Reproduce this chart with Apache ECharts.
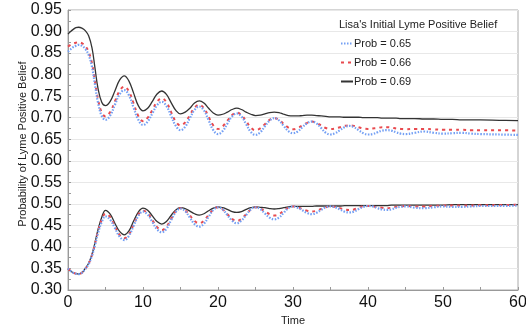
<!DOCTYPE html>
<html><head><meta charset="utf-8">
<script src="https://cdn.jsdelivr.net/npm/echarts@6/dist/echarts.min.js"></script>
<style>html,body{margin:0;padding:0;background:#fff}#c{width:526px;height:329px}</style>
</head><body><div id="c"></div>
<script>
var time = [0,0.35,0.7,1.05,1.4,1.85,2.3,2.75,3.2,3.6,4,4.5,5,
  5.625,6.25,6.875,7.5,8.125,8.75,9.375,10,
  10.625,11.25,11.875,12.5,13.125,13.75,14.375,15,
  15.625,16.25,16.875,17.5,18.125,18.75,19.375,20,
  20.625,21.25,21.875,22.5,23.125,23.75,24.375,25,
  25.625,26.25,26.875,27.5,28.125,28.75,29.375,30,
  30.625,31.25,31.875,32.5,33.125,33.75,34.375,35,
  35.625,36.25,36.875,37.5,38.125,38.75,39.375,40,
  40.625,41.25,41.875,42.5,43.125,43.75,44.375,45,
  46.25,47.5,48.75,50,51.25,52.5,53.75,55,57.5,60];
var xTicks = [0,10,20,30,40,50,60];
var legendTitle = "Lisa's Initial Lyme Positive Belief";
var names = ['Prob = 0.65','Prob = 0.66','Prob = 0.69'];

var upper069 = [.894,.900,.905,.909,.910,.908,.902,.890,.862,.815,.768,.736,.728,
  .738,.762,.787,.797,.785,.757,.728,.716,
  .722,.738,.755,.762,.754,.735,.717,.709,
  .713,.722,.734,.739,.734,.722,.711,.706,
  .708,.713,.719,.722,.719,.713,.708,.705,
  .706,.709,.712,.713,.712,.708,.705,.704,
  .704,.705,.706,.706,.705,.704,.703,.702,
  .702,.702,.701,.701,.701,.701,.700,.700,
  .700,.700,.699,.699,.699,.699,.698,.698,
  .698,.697,.697,.696,.696,.695,.695,.695,.694,.693];
var upper066 = [.865,.869,.872,.874,.875,.873,.866,.853,.826,.784,.743,.712,.703,
  .713,.738,.762,.772,.761,.733,.704,.692,
  .700,.718,.737,.745,.736,.713,.691,.682,
  .689,.706,.723,.730,.722,.702,.682,.674,
  .680,.693,.706,.712,.706,.692,.677,.671,
  .675,.685,.695,.699,.695,.686,.677,.673,
  .676,.682,.688,.691,.688,.682,.676,.674,
  .675,.678,.681,.682,.681,.678,.675,.674,
  .675,.676,.678,.678,.677,.675,.674,.673,
  .674,.674,.673,.672,.672,.672,.671,.671,.671,.670];
var upper065 = [.853,.859,.864,.867,.869,.867,.860,.846,.818,.776,.735,.704,.695,
  .705,.730,.754,.764,.752,.723,.695,.683,
  .691,.710,.729,.737,.727,.704,.681,.671,
  .679,.699,.718,.726,.717,.694,.671,.662,
  .669,.686,.703,.710,.703,.685,.667,.660,
  .666,.680,.693,.699,.694,.681,.669,.664,
  .668,.678,.687,.691,.687,.676,.665,.661,
  .664,.671,.678,.681,.678,.671,.664,.661,
  .662,.666,.670,.671,.670,.666,.663,.662,
  .665,.668,.665,.663,.664,.665,.663,.662,.661,.660];
var lower069 = [.350,.344,.340,.338,.337,.340,.350,.362,.383,.410,.440,.469,.485,
  .476,.455,.436,.428,.437,.460,.481,.490,
  .485,.472,.459,.453,.459,.473,.486,.491,
  .489,.483,.477,.474,.477,.484,.490,.493,
  .491,.487,.482,.480,.482,.487,.491,.493,
  .492,.491,.489,.488,.489,.491,.493,.494,
  .494,.494,.494,.494,.495,.495,.495,.495,
  .495,.495,.496,.496,.496,.496,.496,.496,
  .496,.496,.496,.496,.497,.497,.497,.497,
  .497,.497,.497,.497,.498,.498,.498,.498,.498,.498];
var lower066 = [.350,.344,.340,.338,.337,.340,.349,.361,.381,.407,.436,.463,.477,
  .469,.448,.428,.420,.429,.452,.475,.484,
  .478,.462,.446,.439,.447,.465,.483,.490,
  .485,.473,.460,.455,.461,.474,.487,.492,
  .487,.476,.465,.460,.465,.476,.487,.492,
  .489,.483,.476,.473,.476,.484,.491,.494,
  .492,.488,.484,.482,.484,.488,.492,.494,
  .493,.490,.487,.486,.487,.491,.494,.495,
  .494,.492,.491,.490,.491,.493,.494,.495,
  .494,.494,.495,.496,.496,.496,.496,.497,.497,.498];
var lower065 = [.350,.344,.340,.338,.337,.340,.349,.360,.380,.404,.432,.458,.471,
  .463,.444,.424,.416,.426,.449,.472,.482,
  .475,.458,.441,.434,.442,.462,.481,.489,
  .483,.468,.453,.447,.454,.470,.486,.492,
  .487,.474,.461,.455,.461,.474,.487,.492,
  .488,.478,.468,.464,.468,.479,.490,.494,
  .491,.485,.479,.476,.479,.486,.492,.494,
  .492,.487,.482,.480,.482,.488,.493,.495,
  .494,.490,.487,.486,.487,.491,.493,.494,
  .491,.490,.492,.494,.493,.493,.494,.495,.495,.496];

function pairs(v){ return time.map(function(t,i){ return [t, v[i]]; }); }
var FONT = '"Liberation Sans", Arial, Helvetica, sans-serif';
var styles = {
  'Prob = 0.65': {color:'#74a0f4', width:2.2, type:[1.5,1.5]},
  'Prob = 0.66': {color:'#e84a4f', width:2, type:[3,4]},
  'Prob = 0.69': {color:'#333333', width:1.3, type:'solid'}
};
function mk(name, vals){
  var s = styles[name];
  return {name:name, type:'line', data:pairs(vals), showSymbol:false, symbol:'none', smooth:0.4,
    lineStyle:{color:s.color, width:s.width, type:s.type}, itemStyle:{color:s.color}, animation:false};
}
var chart = echarts.init(document.getElementById('c'), null, {renderer:'canvas'});
chart.setOption({
  animation:false,
  textStyle:{fontFamily:FONT},
  grid:{left:68, right:8, top:10, bottom:39, show:true, borderColor:'#aaaaaa', borderWidth:1, containLabel:false, outerBoundsMode:'none'},
  title:{text:legendTitle, left:334, top:14, textStyle:{fontFamily:FONT, fontSize:11, fontWeight:'normal', color:'#222'}},
  legend:{orient:'vertical', left:335, top:33, itemWidth:12, itemHeight:8, itemGap:8, data:names,
    itemStyle:{opacity:0},
    textStyle:{fontFamily:FONT, fontSize:11, color:'#222', padding:[0,0,0,-4]}},
  xAxis:{type:'value', min:0, max:60, interval:10, name:'Time', nameLocation:'middle', nameGap:25,
    nameTextStyle:{fontFamily:FONT, fontSize:11, color:'#222'},
    axisLine:{lineStyle:{color:'#999'}}, axisTick:{inside:true, length:3, lineStyle:{color:'#999'}},
    minorTick:{show:true, splitNumber:2, length:3, lineStyle:{color:'#999'}},
    axisLabel:{fontFamily:FONT, fontSize:16, color:'#111', margin:5, formatter:function(v){return xTicks.indexOf(v)>=0? String(v):'';}},
    splitLine:{show:false}},
  yAxis:{type:'value', min:0.30, max:0.95, interval:0.05, name:'Probability of Lyme Positive Belief', nameLocation:'middle', nameGap:40, nameMoveOverlap:false,
    nameTextStyle:{fontFamily:FONT, fontSize:11, color:'#222', padding:[0,0,0,12]},
    axisLine:{show:true, lineStyle:{color:'#999'}}, axisTick:{show:true, inside:true, length:3, lineStyle:{color:'#999'}},
    minorTick:{show:true, splitNumber:2, length:3, lineStyle:{color:'#999'}},
    axisLabel:{fontFamily:FONT, fontSize:16, color:'#111', margin:6, formatter:function(v){return v.toFixed(2);}},
    splitLine:{lineStyle:{color:'#e8e8e8'}}},
  series:[
    mk('Prob = 0.69', upper069), mk('Prob = 0.69', lower069),
    mk('Prob = 0.66', upper066), mk('Prob = 0.66', lower066),
    mk('Prob = 0.65', upper065), mk('Prob = 0.65', lower065)
  ]
});
</script></body></html>
